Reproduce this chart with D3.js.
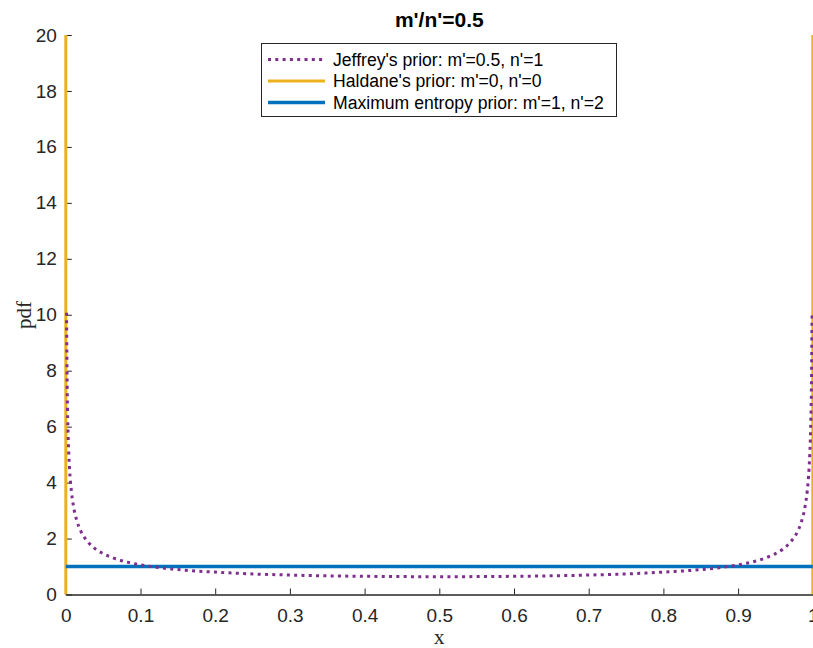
<!DOCTYPE html>
<html><head><meta charset="utf-8">
<script src="https://cdn.jsdelivr.net/npm/d3@7"></script>
<style>body{margin:0;background:#fff}svg{display:block}</style>
</head><body>
<script>
// Data
const title = "m'/n'=0.5";
const xTicks = [0, 0.1, 0.2, 0.3, 0.4, 0.5, 0.6, 0.7, 0.8, 0.9, 1];
const yTicks = [0, 2, 4, 6, 8, 10, 12, 14, 16, 18, 20];
const seriesNames = ["Jeffrey's prior: m'=0.5, n'=1", "Haldane's prior: m'=0, n'=0", "Maximum entropy prior: m'=1, n'=2"];
const jeffreyX = [0.001, 0.002, 0.003, 0.005, 0.0075, 0.01, 0.015, 0.02, 0.03, 0.04, 0.05, 0.06, 0.08, 0.1, 0.125, 0.15, 0.2, 0.25, 0.3, 0.35, 0.4, 0.45, 0.5,
                  0.55, 0.6, 0.65, 0.7, 0.75, 0.8, 0.85, 0.875, 0.9, 0.92, 0.94, 0.95, 0.96, 0.97, 0.98, 0.985, 0.99, 0.9925, 0.995, 0.997, 0.998, 0.999];
const jeffreyY = [10.07, 7.12, 5.82, 4.51, 3.69, 3.20, 2.62, 2.27, 1.87, 1.62, 1.46, 1.34, 1.17, 1.06, 0.96, 0.89, 0.80, 0.735, 0.695, 0.667, 0.650, 0.640, 0.637,
                  0.640, 0.650, 0.667, 0.695, 0.735, 0.80, 0.89, 0.96, 1.06, 1.17, 1.34, 1.46, 1.62, 1.87, 2.27, 2.62, 3.20, 3.69, 4.51, 5.82, 7.12, 10.07];
const haldaneLeftX = [0, 0];
const haldaneLeftY = [0, 20];
const haldaneRightX = [1, 1];
const haldaneRightY = [0, 20];
const maxEntX = [0, 1];
const maxEntY = [1, 1];
const colors = {jeffrey: "#7E2F8E", haldane: "#EDB120", maxent: "#0072BD"};

const W = 813, H = 648;
const svg = d3.select("body").append("svg").attr("width", W).attr("height", H);
const x = d3.scaleLinear().domain([0, 1]).range([65.8, 812.8]);
const y = d3.scaleLinear().domain([0, 20]).range([594.5, 35]);
const font = "'Liberation Sans', Arial, Helvetica, sans-serif";
const serif = "'Liberation Serif', 'Times New Roman', serif";
const axisColor = "#262626";

// clip
svg.append("defs").append("clipPath").attr("id", "clip")
  .append("rect").attr("x", x(0) - 3).attr("y", y(20)).attr("width", x(1) - x(0) + 6).attr("height", y(0) - y(20));

// axes
const xAxis = d3.axisBottom(x).tickValues(xTicks).tickSizeInner(-6).tickSizeOuter(0).tickPadding(14)
  .tickFormat(d => d3.format("")(d));
const gx = svg.append("g").attr("transform", `translate(0,${y(0)})`).call(xAxis);
const yAxis = d3.axisLeft(y).tickValues(yTicks).tickSizeInner(-6).tickSizeOuter(0).tickPadding(9);
const gy = svg.append("g").attr("transform", `translate(${x(0)},0)`).call(yAxis);
[gx, gy].forEach(g => {
  g.selectAll("path.domain").attr("stroke", axisColor).attr("stroke-width", 1.3);
  g.selectAll(".tick line").attr("stroke", axisColor).attr("stroke-width", 1);
  g.selectAll(".tick text").attr("fill", axisColor).style("font-family", font).style("font-size", "19px");
});

const line = d3.line().x(d => x(d[0])).y(d => y(d[1]));
const plot = svg.append("g").attr("clip-path", "url(#clip)");

// Haldane
plot.append("path").datum(haldaneLeftX.map((v, i) => [v, haldaneLeftY[i]]))
  .attr("d", line).attr("fill", "none").attr("stroke", colors.haldane).attr("stroke-width", 3);
plot.append("path").datum(haldaneRightX.map((v, i) => [v, haldaneRightY[i]]))
  .attr("d", line).attr("fill", "none").attr("stroke", colors.haldane).attr("stroke-width", 3);
// Max entropy
plot.append("path").datum(maxEntX.map((v, i) => [v, maxEntY[i]]))
  .attr("d", line).attr("fill", "none").attr("stroke", colors.maxent).attr("stroke-width", 3.5);
// Jeffrey
plot.append("path").datum(jeffreyX.map((v, i) => [v, jeffreyY[i]]))
  .attr("d", line.curve(d3.curveMonotoneX)).attr("fill", "none").attr("stroke", colors.jeffrey)
  .attr("stroke-width", 3).attr("stroke-dasharray", "3,4.3");

// title
svg.append("text").attr("x", 439.3).attr("y", 27).attr("text-anchor", "middle")
  .style("font-family", font).style("font-size", "21px").style("font-weight", "bold").attr("fill", "#000").text(title);
// axis labels
svg.append("text").attr("x", 439.3).attr("y", 644).attr("text-anchor", "middle")
  .style("font-family", serif).style("font-size", "21px").attr("fill", axisColor).text("x");
svg.append("text").attr("transform", `translate(31,315) rotate(-90)`).attr("text-anchor", "middle")
  .style("font-family", serif).style("font-size", "21px").attr("fill", axisColor).text("pdf");

// legend (centered at top of axes)
const lg = svg.append("g");
lg.append("rect").attr("x", 261.5).attr("y", 43.5).attr("width", 355).attr("height", 73)
  .attr("fill", "#fff").attr("stroke", axisColor).attr("stroke-width", 1);
const legendItems = [
  {name: seriesNames[0], color: colors.jeffrey, dash: "3,4.3", w: 3},
  {name: seriesNames[1], color: colors.haldane, dash: null, w: 3},
  {name: seriesNames[2], color: colors.maxent, dash: null, w: 3.5}
];
legendItems.forEach((it, i) => {
  const cy = 59.5 + i * 21.5;
  lg.append("line").attr("x1", 268).attr("x2", 325).attr("y1", cy).attr("y2", cy)
    .attr("stroke", it.color).attr("stroke-width", it.w).attr("stroke-dasharray", it.dash);
  lg.append("text").attr("x", 333).attr("y", cy + 6).style("font-family", font).style("font-size", "17.6px")
    .attr("fill", "#000").text(it.name);
});
</script>
</body></html>
